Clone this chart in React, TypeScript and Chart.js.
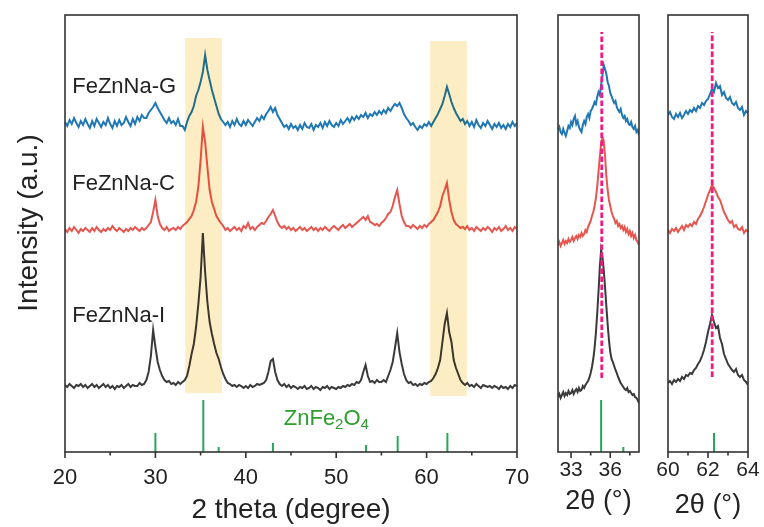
import React, { useEffect, useRef } from "react";
import { Chart, registerables } from "chart.js";
Chart.register(...registerables);

const FONT = "'Liberation Sans', Arial, Helvetica, sans-serif";
const TEXT = "#222222";
const BLACK = "#3a3a3a";
const RED = "#e8554f";
const BLUE = "#1f77b4";
const GREEN = "#2aa65c";
const PINK = "#ef1a8c";
const BAND = "rgb(253,237,196)";

// ---------- main panel (2 theta 20-70, step 0.25) ----------
const mainStart = 20;
const mainStep = 0.25;
const mainI = [
  67, 65, 68, 66, 64, 67, 66, 68, 65, 67, 64, 66, 68, 65, 67, 64, 66, 68, 65, 67,
  64, 66, 63, 66, 65, 67, 64, 66, 68, 65, 67, 66, 66, 69, 67, 68, 72, 80, 96, 122,
  105, 90, 82, 76, 72, 70, 71, 68, 69, 67, 70, 68, 70, 72, 76, 86, 98, 108, 125, 148,
  175, 219, 180, 150, 130, 118, 108, 99, 93, 85, 78, 73, 69, 68, 66, 67, 65, 67, 66, 64,
  66, 64, 67, 65, 66, 68, 67, 68, 69, 72, 80, 91, 93, 80, 72, 68, 66, 68, 65, 67,
  64, 66, 65, 63, 65, 64, 66, 63, 64, 66, 63, 65, 64, 62, 65, 64, 66, 63, 65, 64,
  63, 65, 64, 66, 65, 67, 66, 68, 67, 70, 69, 72, 80, 87, 76, 70, 71, 69, 72, 70,
  70, 72, 70, 76, 82, 90, 104, 119, 100, 88, 78, 72, 69, 70, 67, 68, 66, 68, 67, 69,
  68, 70, 71, 74, 78, 84, 92, 110, 128, 139, 120, 110, 92, 84, 78, 72, 69, 67, 69, 66,
  67, 65, 68, 66, 64, 67, 66, 65, 66, 64, 66, 65, 63, 66, 64, 65, 63, 66, 64, 67,
  66,
];
const mainC = [
  223, 220, 224, 221, 225, 222, 219, 223, 221, 224, 222, 220, 224, 221, 225, 222, 220, 223, 221, 224,
  222, 226, 223, 221, 224, 222, 220, 223, 221, 224, 222, 225, 223, 221, 224, 222, 224, 227, 230, 240,
  252, 236, 228, 224, 222, 225, 221, 223, 224, 222, 225, 223, 226, 228, 230, 233, 236, 242, 250, 265,
  292, 325, 310, 285, 262, 250, 243, 236, 232, 229, 226, 222, 224, 221, 223, 225, 222, 224, 221, 226,
  224, 229, 223, 225, 222, 225, 227, 229, 228, 231, 235, 238, 242, 236, 230, 226, 224, 226, 223, 225,
  222, 224, 221, 223, 225, 222, 224, 221, 223, 225, 222, 224, 221, 224, 222, 225, 223, 221, 224, 226,
  224, 222, 225, 227, 224, 226, 228, 225, 227, 229, 231, 233, 235, 232, 236, 230, 229, 227, 228, 226,
  229, 231, 234, 238, 240, 246, 255, 262, 248, 236, 230, 226, 226, 224, 227, 225, 223, 226, 224, 227,
  225, 228, 230, 232, 236, 240, 246, 256, 262, 269, 252, 240, 232, 228, 226, 224, 225, 223, 226, 222,
  224, 221, 225, 223, 221, 224, 222, 225, 223, 220, 224, 222, 225, 221, 223, 226, 222, 224, 221, 225,
  223,
];
const mainG = [
  330, 326, 332, 328, 334, 329, 325, 331, 327, 333, 328, 324, 331, 326, 333, 329, 325, 330, 327, 334,
  328, 324, 331, 326, 332, 327, 329, 335, 330, 326, 333, 328, 335, 331, 337, 334, 334, 339, 342, 345,
  349, 344, 340, 336, 332, 329, 334, 329, 331, 327, 333, 326, 326, 322, 330, 336, 340, 346, 356, 362,
  370, 380, 397, 382, 372, 362, 354, 346, 338, 333, 330, 327, 330, 325, 331, 327, 333, 328, 326, 331,
  327, 332, 329, 326, 330, 334, 331, 336, 333, 338, 341, 345, 340, 344, 337, 333, 329, 325, 327, 323,
  328, 324, 326, 322, 327, 323, 329, 325, 324, 328, 322, 327, 325, 329, 324, 330, 326, 331, 327, 325,
  329, 326, 332, 328, 331, 334, 330, 335, 332, 336, 333, 337, 335, 339, 334, 338, 336, 340, 337, 341,
  338, 342, 339, 344, 341, 345, 348, 346, 349, 344, 338, 334, 331, 327, 329, 325, 322, 326, 324, 328,
  326, 330, 326, 330, 334, 338, 343, 348, 356, 365, 358, 350, 344, 339, 335, 331, 333, 328, 331, 326,
  330, 325, 332, 327, 324, 329, 326, 331, 327, 323, 328, 325, 329, 324, 327, 323, 328, 325, 330, 326,
  329,
];

// ZnFe2O4 reference pattern
const stickPos = [30.0, 35.3, 37.0, 43.0, 53.3, 56.8, 62.3];
const stickH = [19, 52, 5, 9, 7, 16, 19];

// highlighted regions
const bandFrom = [33.3, 60.4];
const bandTo = [37.35, 64.45];
const bandTop = [414, 411];
const bandBottom = [59, 56];

const sampleNames = ["FeZnNa-G", "FeZnNa-C", "FeZnNa-I"];
const sampleLabelY = [365, 268, 136.5];
const sampleLabelX = 20.8;

// ---------- inset 1 (32-38.2, step 0.1) ----------
const inset1Start = 32;
const inset1Step = 0.1;
const inset1G = [
  322, 325, 320, 318, 323, 319, 316, 321, 326, 324, 330, 327, 333, 336, 328, 331, 325, 322, 320, 327,
  331, 328, 335, 338, 334, 341, 343, 346, 350, 348, 355, 360, 357, 367, 376, 387, 383, 378, 370, 366,
  359, 356, 352, 349, 351, 345, 342, 340, 343, 337, 334, 336, 331, 333, 328, 327, 330, 325, 323, 326,
  320, 322, 317,
];
const inset1C = [
  207, 210, 206, 209, 212, 208, 211, 209, 213, 210, 212, 215, 211, 214, 216, 213, 217, 215, 219, 216,
  218, 222, 220, 225, 228, 231, 236, 240, 246, 254, 265, 280, 295, 308, 315, 311, 296, 276, 262, 252,
  246, 240, 236, 233, 229, 231, 226, 228, 224, 226, 222, 225, 220, 223, 218, 221, 216, 219, 214, 217,
  212, 210, 207,
];
const inset1I = [
  55, 58, 54, 57, 60, 56, 59, 57, 61, 58, 59, 62, 58, 61, 63, 60, 64, 61, 62, 66,
  64, 67, 69, 71, 74, 79, 85, 93, 104, 119, 138, 160, 185, 202, 195, 182, 165, 146, 128, 112,
  100, 93, 90, 86, 82, 79, 75, 72, 69, 67, 65, 63, 62, 64, 60, 61, 59, 57, 58, 55,
  54, 52, 49,
];

// ---------- inset 2 (60-64, step 0.1) ----------
const inset2Start = 60;
const inset2Step = 0.1;
const inset2G = [
  337, 340, 335, 333, 338, 335, 339, 334, 337, 341, 338, 342, 340, 344, 341, 346, 344, 349, 347, 351,
  353, 358, 363, 360, 369, 364, 366, 357, 360, 354, 352, 355, 349, 347, 350, 344, 342, 345, 337, 341,
  339,
];
const inset2C = [
  222, 219, 223, 221, 224, 220, 223, 226, 222, 227, 225, 228, 226, 230, 228, 233, 236, 240, 245, 251,
  257, 262, 267, 264, 260, 255, 252, 246, 240, 236, 232, 229, 231, 225, 227, 223, 222, 225, 219, 222,
  220,
];
const inset2I = [
  69, 71, 68, 72, 70, 73, 71, 75, 73, 77, 76, 79, 78, 82, 84, 88, 91, 96, 102, 110,
  120, 128, 137, 130, 124, 126, 114, 108, 98, 93, 88, 85, 82, 80, 83, 77, 75, 77, 72, 70,
  67,
];

const refPeak = [35.35, 62.21];
const refFrom = [74, 75];
const refTo = [420, 420];

const mainMajor = [20, 30, 40, 50, 60, 70];
const mainMinor = [25, 35, 45, 55, 65];
const inset1Major = [33, 36];
const inset1Minor = [34.5, 37.5];
const inset2Major = [60, 62, 64];
const inset2Minor = [61, 63];

const toPts = (start: number, step: number, ys: number[]) =>
  ys.map((y, i) => ({ x: +(start + i * step).toFixed(3), y }));

const stickPts = stickPos.flatMap((p, i) => [
  { x: p, y: 0 },
  { x: p, y: stickH[i] },
  { x: p, y: null as any },
]);

type Spec = {
  series: { data: { x: number; y: number }[]; color: string }[];
  xMin: number;
  xMax: number;
  major: number[];
  minor: number[];
  tickFont: number;
  tickPad: number;
  title: string;
  titleFont: number;
  titlePad: number;
  padLeft: number;
  padRight: number;
  ref?: number;
  main?: boolean;
};

function makeConfig(s: Spec): any {
  const datasets: any[] = [];
  if (s.ref !== undefined) {
    datasets.push({
      data: [
        { x: refPeak[s.ref], y: refFrom[s.ref] },
        { x: refPeak[s.ref], y: refTo[s.ref] },
      ],
      borderColor: PINK,
      borderWidth: 2.8,
      borderDash: [5.5, 2.5],
      pointRadius: 0,
    });
  }
  s.series.forEach((sr) =>
    datasets.push({
      data: sr.data,
      borderColor: sr.color,
      borderWidth: 2,
      pointRadius: 0,
      tension: 0,
    })
  );
  datasets.push({
    data: stickPts,
    borderColor: GREEN,
    borderWidth: 2,
    pointRadius: 0,
    spanGaps: false,
  });

  const decor = {
    id: "decor",
    afterDatasetsDraw(chart: any) {
      if (!s.main) return;
      const { ctx, scales } = chart;
      const x = scales.x, y = scales.y;
      ctx.save();
      ctx.globalCompositeOperation = "multiply";
      ctx.fillStyle = BAND;
      bandFrom.forEach((b, i) => {
        const x0 = x.getPixelForValue(b);
        const x1 = x.getPixelForValue(bandTo[i]);
        const y0 = y.getPixelForValue(bandTop[i]);
        const y1 = y.getPixelForValue(bandBottom[i]);
        ctx.fillRect(x0, y0, x1 - x0, y1 - y0);
      });
      ctx.restore();
    },
    afterDraw(chart: any) {
      const { ctx, chartArea: a, scales } = chart;
      const x = scales.x, y = scales.y;
      ctx.save();
      ctx.strokeStyle = "#333";
      ctx.lineWidth = 1.6;
      ctx.strokeRect(a.left, a.top, a.right - a.left, a.bottom - a.top);
      ctx.beginPath();
      s.major.forEach((v) => {
        const px = x.getPixelForValue(v);
        ctx.moveTo(px, a.bottom);
        ctx.lineTo(px, a.bottom + 6);
      });
      s.minor.forEach((v) => {
        const px = x.getPixelForValue(v);
        ctx.moveTo(px, a.bottom);
        ctx.lineTo(px, a.bottom + 3.5);
      });
      ctx.stroke();
      if (s.main) {
        ctx.fillStyle = TEXT;
        ctx.font = `22px ${FONT}`;
        ctx.textAlign = "left";
        ctx.textBaseline = "middle";
        sampleNames.forEach((n, i) => {
          ctx.fillText(n, x.getPixelForValue(sampleLabelX), y.getPixelForValue(sampleLabelY[i]));
        });
        // ZnFe2O4 label
        ctx.fillStyle = "#2ca02c";
        let px = x.getPixelForValue(44.2);
        const py = y.getPixelForValue(33);
        const parts: [string, boolean][] = [["ZnFe", false], ["2", true], ["O", false], ["4", true]];
        parts.forEach(([t, sub]) => {
          ctx.font = sub ? `15px ${FONT}` : `22px ${FONT}`;
          ctx.fillText(t, px, sub ? py + 6 : py);
          px += ctx.measureText(t).width;
        });
        // y title
        ctx.fillStyle = TEXT;
        ctx.font = `28px ${FONT}`;
        ctx.textAlign = "center";
        ctx.translate(29, 223);
        ctx.rotate(-Math.PI / 2);
        ctx.fillText("Intensity (a.u.)", 0, 0);
      }
      ctx.restore();
    },
  };

  return {
    type: "line",
    data: { datasets },
    plugins: [decor],
    options: {
      animation: false,
      responsive: false,
      devicePixelRatio: 1,
      layout: { padding: { left: s.padLeft, right: s.padRight, top: 15, bottom: 0 } },
      plugins: { legend: { display: false }, tooltip: { enabled: false } },
      scales: {
        x: {
          type: "linear",
          min: s.xMin,
          max: s.xMax,
          afterFit: (sc: any) => {
            sc.height = 75;
            sc.paddingLeft = 0;
            sc.paddingRight = 0;
          },
          afterBuildTicks: (sc: any) => {
            sc.ticks = s.major.map((v) => ({ value: v }));
          },
          grid: { display: false, drawTicks: false },
          border: { display: false },
          ticks: {
            autoSkip: false,
            maxRotation: 0,
            padding: s.tickPad,
            color: TEXT,
            font: { family: FONT, size: s.tickFont },
            callback: (v: any) => String(v),
          },
          title: {
            display: true,
            text: s.title,
            color: TEXT,
            font: { family: FONT, size: s.titleFont },
            padding: { top: 0, bottom: s.titlePad },
          },
        },
        y: { display: false, min: 0, max: 437 },
      },
    },
  };
}

export default function App() {
  const r1 = useRef<HTMLCanvasElement>(null);
  const r2 = useRef<HTMLCanvasElement>(null);
  const r3 = useRef<HTMLCanvasElement>(null);

  useEffect(() => {
    const charts = [
      new Chart(
        r1.current!,
        makeConfig({
          series: [
            { data: toPts(mainStart, mainStep, mainI), color: BLACK },
            { data: toPts(mainStart, mainStep, mainC), color: RED },
            { data: toPts(mainStart, mainStep, mainG), color: BLUE },
          ],
          xMin: 20,
          xMax: 70,
          major: mainMajor,
          minor: mainMinor,
          tickFont: 22,
          tickPad: 13,
          title: "2 theta (degree)",
          titleFont: 28,
          titlePad: 0,
          padLeft: 65,
          padRight: 13,
          main: true,
        })
      ),
      new Chart(
        r2.current!,
        makeConfig({
          series: [
            { data: toPts(inset1Start, inset1Step, inset1I), color: BLACK },
            { data: toPts(inset1Start, inset1Step, inset1C), color: RED },
            { data: toPts(inset1Start, inset1Step, inset1G), color: BLUE },
          ],
          xMin: 32,
          xMax: 38.2,
          major: inset1Major,
          minor: inset1Minor,
          tickFont: 21,
          tickPad: 6,
          title: "2θ (°)",
          titleFont: 27,
          titlePad: 9,
          padLeft: 18,
          padRight: 11,
          ref: 0,
        })
      ),
      new Chart(
        r3.current!,
        makeConfig({
          series: [
            { data: toPts(inset2Start, inset2Step, inset2I), color: BLACK },
            { data: toPts(inset2Start, inset2Step, inset2C), color: RED },
            { data: toPts(inset2Start, inset2Step, inset2G), color: BLUE },
          ],
          xMin: 60,
          xMax: 64,
          major: inset2Major,
          minor: inset2Minor,
          tickFont: 21,
          tickPad: 6,
          title: "2θ (°)",
          titleFont: 27,
          titlePad: 5,
          padLeft: 18,
          padRight: 16,
          ref: 1,
        })
      ),
    ];
    return () => charts.forEach((c) => c.destroy());
  }, []);

  return (
    <div style={{ position: "absolute", left: 0, top: 0, width: 764, height: 527, background: "#fff" }}>
      <canvas ref={r1} width={530} height={527} style={{ position: "absolute", left: 0, top: 0 }} />
      <canvas ref={r2} width={110} height={527} style={{ position: "absolute", left: 540, top: 0 }} />
      <canvas ref={r3} width={114} height={527} style={{ position: "absolute", left: 650, top: 0 }} />
    </div>
  );
}
